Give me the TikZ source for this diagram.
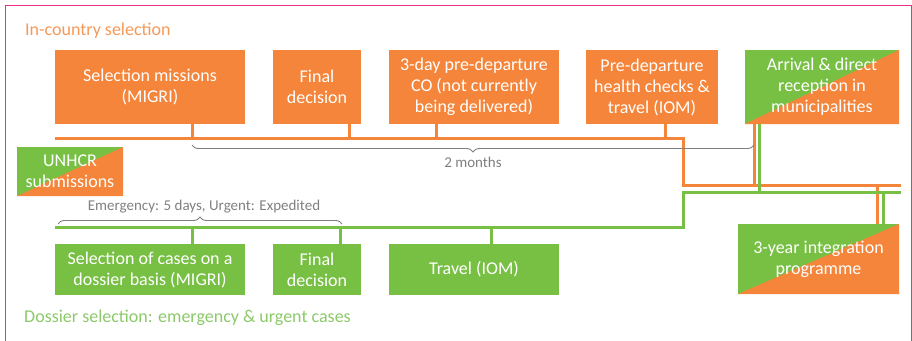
\documentclass[tikz,border=0pt]{standalone}
\usepackage{fontspec}
\setmainfont{Carlito}
\usetikzlibrary{decorations.pathreplacing,calc}
\definecolor{orng}{HTML}{F5853A}
\definecolor{grn}{HTML}{78C044}
\definecolor{orngT}{HTML}{F39A58}
\definecolor{grnT}{HTML}{8CC96A}
\definecolor{gry}{HTML}{808080}
\definecolor{pnk}{HTML}{E8308A}
\tikzset{
  box/.style={inner sep=0pt, align=center, text=white,
    font=\fontsize{18}{21}\selectfont},
  obox/.style={box, fill=orng},
  gbox/.style={box, fill=grn},
  splitbox/.style={box, fill=grn, path picture={
    \fill[orng] (path picture bounding box.south west) --
      (path picture bounding box.north east) --
      (path picture bounding box.south east) -- cycle;}},
  oline/.style={draw=orng, line width=3pt},
  gline/.style={draw=grn, line width=3pt},
  bracestyle/.style={draw=gry, line width=0.9pt,
    decorate, decoration={brace, amplitude=7pt}},
  greytext/.style={text=gry, font=\fontsize{15}{18}\selectfont, inner sep=0pt},
  title/.style={font=\fontsize{18}{21}\selectfont, inner sep=0pt, anchor=west}
}
\begin{document}
\begin{tikzpicture}[x=1pt,y=-1pt]
\useasboundingbox (0,0) rectangle (912,340);
\draw[pnk, line width=1pt] (5,345) -- (5,5) -- (911,5) -- (911,345);

% titles
\node[title, text=orngT] (t1) at (25,31) {In-country selection};
\node[title, text=grnT] (t2) at (24,318) {Dossier selection: emergency \& urgent cases};

% top boxes
\node[obox, minimum width=190pt, minimum height=74pt] (sm) at (150,87) {Selection missions\\(MIGRI)};
\node[obox, minimum width=88pt, minimum height=74pt] (fd1) at (317,87) {Final\\decision};
\node[obox, minimum width=170pt, minimum height=74pt] (co) at (474,87) {3-day pre-departure\\CO (not currently\\being delivered)};
\node[obox, minimum width=132pt, minimum height=74pt] (hc) at (652,87) {Pre-departure\\health checks \&\\travel (IOM)};
\node[splitbox, minimum width=154pt, minimum height=74pt] (ar) at (822,87) {Arrival \& direct\\reception in\\municipalities};
\node[splitbox, minimum width=106pt, minimum height=49pt] (un) at (70,171.5) {UNHCR\\submissions};

% bottom boxes
\node[gbox, minimum width=190pt, minimum height=51pt] (sc) at (150,269.5) {Selection of cases on a\\dossier basis (MIGRI)};
\node[gbox, minimum width=88pt, minimum height=51pt] (fd2) at (317,269.5) {Final\\decision};
\node[gbox, minimum width=170pt, minimum height=51pt] (tr) at (474,269.5) {Travel (IOM)};
\node[splitbox, minimum width=161pt, minimum height=70pt] (ip) at (818.5,259) {3-year integration\\programme};

% line coordinates
\coordinate (oL) at (55,138);
\coordinate (oK1) at (683,138);
\coordinate (oK2) at (683,185);
\coordinate (oR) at (901,185);
\coordinate (gL) at (55,227);
\coordinate (gK1) at (683,227);
\coordinate (gK2) at (683,192);
\coordinate (gR) at (901,192);

% orange timeline
\draw[oline] (oL) -- (oK1) -- (oK2) -- (oR);
\draw[oline] ([xshift=42pt]sm.south) -- ([xshift=42pt]sm.south |- oL);
\draw[oline] ([xshift=32pt]fd1.south) -- ([xshift=32pt]fd1.south |- oL);
\draw[oline] ([xshift=-38pt]co.south) -- ([xshift=-38pt]co.south |- oL);
\draw[oline] ([xshift=13pt]hc.south) -- ([xshift=13pt]hc.south |- oL);
\draw[oline] ([xshift=-68pt]ar.south) -- ([xshift=-68pt]ar.south |- oR);
\draw[oline] ([xshift=58.5pt]ip.north) -- ([xshift=58.5pt]ip.north |- oR);

% green timeline
\draw[gline] (gL) -- (gK1) -- (gK2) -- (gR);
\draw[gline] ([xshift=42pt]sc.north) -- ([xshift=42pt]sc.north |- gL);
\draw[gline] ([xshift=23pt]fd2.north) -- ([xshift=23pt]fd2.north |- gL);
\draw[gline] ([xshift=17pt]tr.north) -- ([xshift=17pt]tr.north |- gL);
\draw[gline] ([xshift=-63pt]ar.south) -- ([xshift=-63pt]ar.south |- gR);
\draw[gline] ([xshift=64.5pt]ip.north) -- ([xshift=64.5pt]ip.north |- gR);

% braces
\coordinate (b1a) at (192,145);
\coordinate (b1b) at (754,145);
\draw[bracestyle, decoration={mirror}] (b1a) -- (b1b);
\node[greytext] (m2) at (473,162) {2 months};
\coordinate (b2a) at (58,224);
\coordinate (b2b) at (342,224);
\draw[bracestyle] (b2a) -- (b2b);
\node[greytext] (em) at (204,207) {Emergency: 5 days, Urgent: Expedited};
\end{tikzpicture}
\end{document}
